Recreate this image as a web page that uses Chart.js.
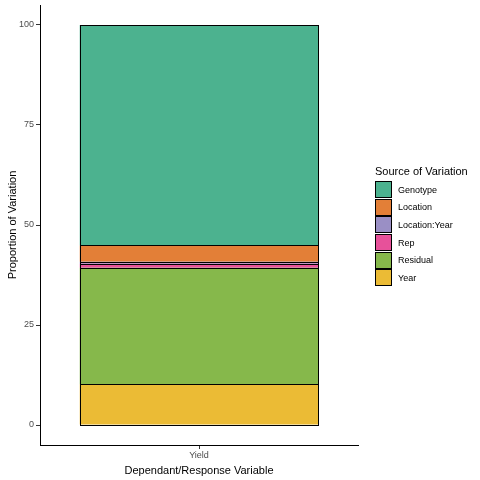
<!DOCTYPE html>
<html>
<head>
<meta charset="utf-8">
<script src="https://cdn.jsdelivr.net/npm/chart.js@4"></script>
<style>
  html, body { margin: 0; padding: 0; background: #fff; }
  #wrap { position: relative; width: 480px; height: 480px; }
  #legend { position: absolute; left: 375px; top: 165px; font-family: "Liberation Sans", Arial, sans-serif; }
  #legend .title { font-size: 11px; color: #000; margin-bottom: 4px; }
  #legend .row { display: flex; align-items: center; height: 17.6px; }
  #legend .key { width: 15px; height: 15px; border: 1px solid #000; margin-right: 6px; }
  #legend .lab { font-size: 9px; color: #000; }
</style>
</head>
<body>
<div id="wrap">
  <canvas id="chart" width="480" height="480"></canvas>
  <div id="legend"></div>
</div>
<script>
const categories = ["Yield"]
// stack order, bottom to top
const sources = ["Year", "Residual", "Rep", "Location:Year", "Location", "Genotype"]
const proportions = [10.2, 29.1, 1.0, 0.5, 4.1, 55.1]
const colors = ["#ebbb35", "#86b84b", "#e7519a", "#9a8fc5", "#e37f37", "#4cb28f"]
const yTicks = [0, 25, 50, 75, 100]

const font = "'Liberation Sans', Arial, sans-serif"

const datasets = sources.map((s, i) => ({
  label: s,
  data: [proportions[i]],
  backgroundColor: colors[i],
  borderWidth: 0,
  categoryPercentage: 1,
  barPercentage: 0.75,
}))

// black outline round each segment, like geom_bar(colour = "black")
const outline = {
  id: "outline",
  afterDatasetsDraw(chart) {
    const ctx = chart.ctx
    ctx.save()
    ctx.strokeStyle = "#000"
    ctx.lineWidth = 1
    chart.data.datasets.forEach((d, i) => {
      chart.getDatasetMeta(i).data.forEach((bar) => {
        const x0 = Math.round(bar.x - bar.width / 2) + 0.5
        const x1 = Math.round(bar.x + bar.width / 2) + 0.5
        const y0 = Math.round(bar.y) + 0.5
        const y1 = Math.round(bar.base) + 0.5
        ctx.strokeRect(x0, y0, x1 - x0, y1 - y0)
      })
    })
    ctx.restore()
  },
}

new Chart(document.getElementById("chart").getContext("2d"), {
  type: "bar",
  data: { labels: categories, datasets },
  plugins: [outline],
  options: {
    responsive: false,
    animation: false,
    layout: { padding: { top: 5, right: 122, left: 0, bottom: 0 } },
    plugins: { legend: { display: false }, tooltip: { enabled: false } },
    scales: {
      x: {
        stacked: true,
        grid: { display: true, offset: false, drawOnChartArea: false, tickLength: 4, tickColor: "#333" },
        border: { display: true, color: "#000", width: 1 },
        ticks: { color: "#4d4d4d", font: { family: font, size: 9 }, padding: 1 },
        title: { display: true, text: "Dependant/Response Variable", color: "#000", font: { family: font, size: 11 }, padding: { top: 0, bottom: 2 } },
        afterFit: (s) => { s.height = 35 },
      },
      y: {
        stacked: true,
        min: -5,
        max: 105,
        afterBuildTicks: (s) => { s.ticks = yTicks.map((v) => ({ value: v })) },
        grid: { display: true, drawOnChartArea: false, tickLength: 4, tickColor: "#333" },
        border: { display: true, color: "#000", width: 1 },
        ticks: { color: "#4d4d4d", font: { family: font, size: 9 }, padding: 2 },
        title: { display: true, text: "Proportion of Variation", color: "#000", font: { family: font, size: 11 }, padding: { top: 6, bottom: 0 } },
        afterFit: (s) => { s.width = 40; s.paddingTop = 0; s.paddingBottom = 0 },
      },
    },
  },
})

// legend, alphabetical order as in the reference
const legend = document.getElementById("legend")
legend.innerHTML = '<div class="title">Source of Variation</div>' +
  sources.map((s, i) => ({ s, c: colors[i] }))
    .sort((a, b) => a.s.localeCompare(b.s))
    .map((d) => `<div class="row"><div class="key" style="background:${d.c}"></div><div class="lab">${d.s}</div></div>`)
    .join("")
</script>
</body>
</html>
